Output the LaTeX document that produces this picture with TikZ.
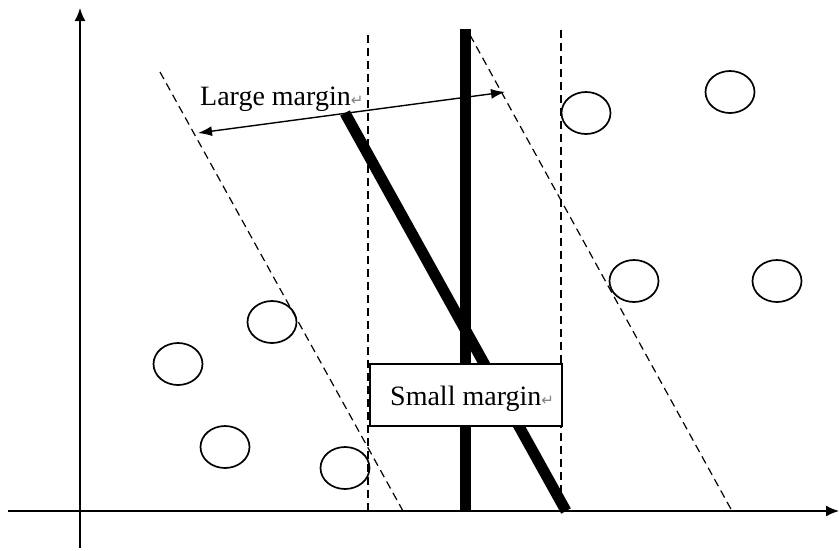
\documentclass[tikz,border=0pt]{standalone}
\usepackage{fontspec}
\setmainfont{Liberation Serif}
\newfontfamily\symfont{DejaVu Sans}
\usetikzlibrary{arrows.meta,shapes.geometric}
\begin{document}
\begin{tikzpicture}[x=1pt,y=-1pt,
  axis/.style={line width=1.6pt,-{Latex[length=13pt,width=11pt]}},
  guide/.style={line width=1.2pt,dash pattern=on 8pt off 5pt},
  sepline/.style={line width=11pt},
  sample/.style={draw,line width=1.7pt,ellipse,minimum width=49pt,minimum height=42pt,inner sep=0pt},
  marginarrow/.style={line width=1.4pt,{Latex[length=14pt,width=10pt]}-{Latex[length=14pt,width=10pt]}},
  label/.style={inner sep=0pt,font=\fontsize{28}{30}\selectfont},
  retmark/.style={text=gray,font=\symfont\fontsize{12}{12}\selectfont}
]
\useasboundingbox (0,0) rectangle (839,550);
% axes
\coordinate (yb) at (80,548); \coordinate (yt) at (80,8);
\coordinate (xl) at (8,511); \coordinate (xr) at (839,511);
\draw[axis] (yb) -- (yt);
\draw[axis] (xl) -- (xr);
% dashed guides
\coordinate (d1a) at (160,72);  \coordinate (d1b) at (403,511);
\coordinate (d2a) at (470,35);  \coordinate (d2b) at (732,511);
\coordinate (v1a) at (368,35);  \coordinate (v1b) at (368,511);
\coordinate (v2a) at (561,30);  \coordinate (v2b) at (561,511);
\draw[guide] (d1a) -- (d1b);
\draw[guide] (d2a) -- (d2b);
\draw[guide] (v1a) -- (v1b);
\draw[guide] (v2a) -- (v2b);
% separating lines
\coordinate (s1a) at (465,29);  \coordinate (s1b) at (465,511);
\coordinate (s2a) at (345,113); \coordinate (s2b) at (566,511);
\draw[sepline] (s1a) -- (s1b);
\draw[sepline] (s2a) -- (s2b);
% margin arrow
\coordinate (ma) at (198,133); \coordinate (mb) at (505,92);
\draw[marginarrow] (ma) -- (mb);
% samples
\node[sample] (c1) at (586,113) {};
\node[sample] (c2) at (730,92) {};
\node[sample] (c3) at (634,281) {};
\node[sample] (c4) at (777,281) {};
\node[sample] (c5) at (272,322) {};
\node[sample] (c6) at (178,364) {};
\node[sample] (c7) at (225,447) {};
\node[sample] (c8) at (345,468) {};
% labels
\node[label,anchor=base west] (lm) at (200,105) {Large margin{\color{gray}\symfont\fontsize{15}{15}\selectfont ↵}};
\node[draw,fill=white,line width=1.3pt,minimum width=192pt,minimum height=62pt,inner sep=0pt] (sm) at (466,395) {};
\node[label,anchor=base west] (smt) at (390,405) {Small margin{\color{gray}\symfont\fontsize{15}{15}\selectfont ↵}};
\end{tikzpicture}
\end{document}
